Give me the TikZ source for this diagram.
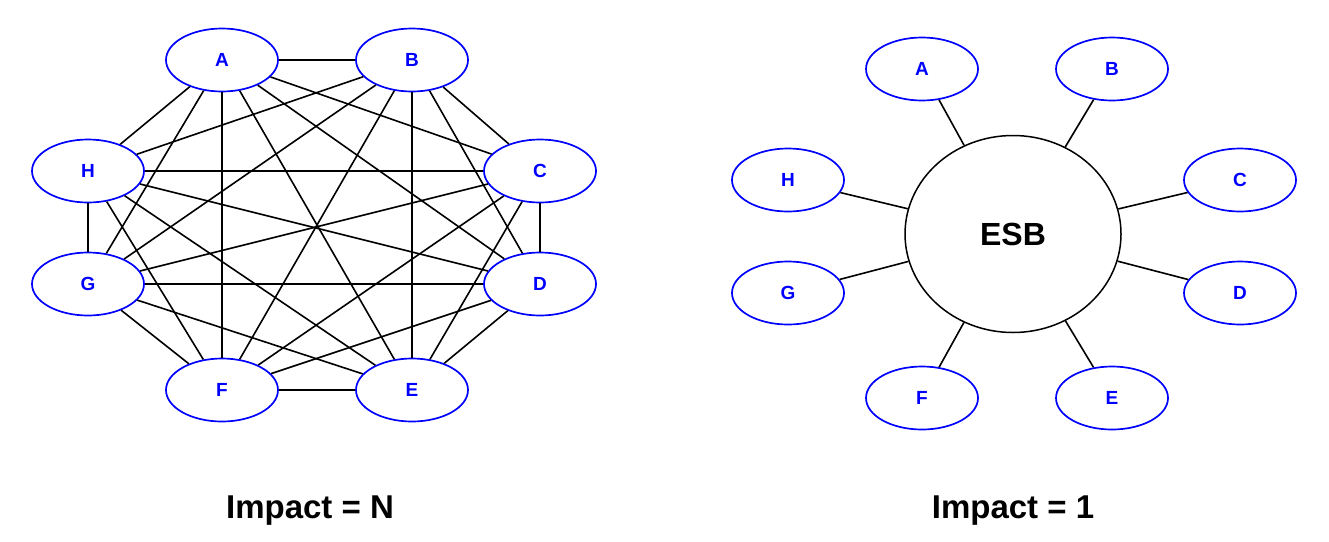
\documentclass[tikz,border=0pt]{standalone}
\usepackage{fontspec}
\setmainfont{Liberation Sans}
\usetikzlibrary{shapes.geometric}
\begin{document}
\begin{tikzpicture}[x=1pt,y=-1pt,
  svc/.style={ellipse,draw=blue,line width=1.7pt,minimum width=112pt,minimum height=63pt,inner sep=0pt,
    text=blue,font=\fontsize{19}{19}\selectfont\bfseries},
  hub/.style={ellipse,draw=black,line width=1.5pt,minimum width=216pt,minimum height=197pt,inner sep=0pt,
    font=\fontsize{32}{32}\selectfont\bfseries},
  link/.style={draw=black,line width=1.6pt},
  ttl/.style={font=\fontsize{33}{33}\selectfont\bfseries}]
\useasboundingbox (0,0) rectangle (1329,541);
% left
\node[svc] (A) at (222,60) {A};
\node[svc] (B) at (412,60) {B};
\node[svc] (H) at (88,171) {H};
\node[svc] (C) at (540,171) {C};
\node[svc] (G) at (88,284) {G};
\node[svc] (D) at (540,284) {D};
\node[svc] (F) at (222,390) {F};
\node[svc] (E) at (412,390) {E};
\foreach \a/\b in {A/B,A/C,A/D,A/E,A/F,A/G,A/H,B/C,B/D,B/E,B/F,B/G,B/H,C/D,C/E,C/F,C/G,C/H,D/E,D/F,D/G,D/H,E/F,E/G,E/H,F/G,F/H,G/H}
  \draw[link] (\a) -- (\b);
\node[ttl] (t1) at (310,511) {Impact = N};
% right
\node[hub] (esb) at (1013,234) {ESB};
\node[svc] (rA) at (922,69) {A};
\node[svc] (rB) at (1112,69) {B};
\node[svc] (rH) at (788,180) {H};
\node[svc] (rC) at (1240,180) {C};
\node[svc] (rG) at (788,293) {G};
\node[svc] (rD) at (1240,293) {D};
\node[svc] (rF) at (922,398) {F};
\node[svc] (rE) at (1112,398) {E};
\foreach \n in {rA,rB,rC,rD,rE,rF,rG,rH}
  \draw[link] (\n) -- (esb);
\node[ttl] (t2) at (1013,511) {Impact = 1};
\end{tikzpicture}
\end{document}
